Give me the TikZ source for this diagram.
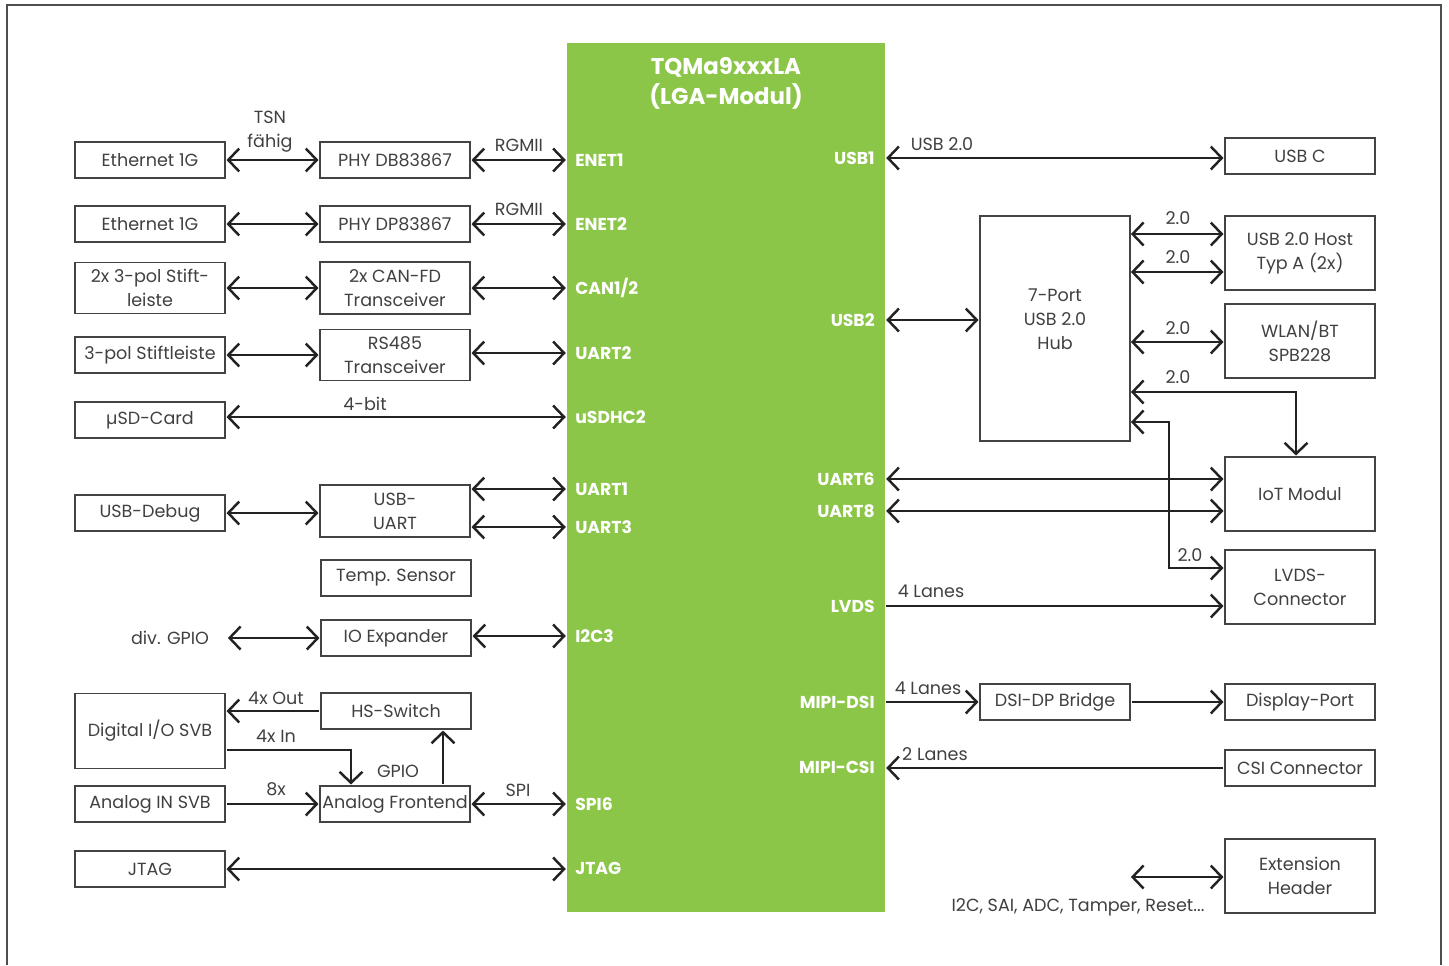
\documentclass[tikz,border=0pt]{standalone}
\usepackage{fontspec}
\setmainfont{Poppins}
\usetikzlibrary{arrows.meta}
\definecolor{socgreen}{RGB}{139,198,72}
\definecolor{txt}{RGB}{64,64,64}
\definecolor{ln}{RGB}{34,34,34}
\tikzset{
  box/.style={draw=ln!85, line width=0.75pt, minimum width=3cm, minimum height=0.72cm, inner sep=0pt, align=center, text=txt, font=\fontsize{10}{13.6}\selectfont},
  lbl/.style={text=txt, inner sep=0pt, font=\fontsize{10}{13.6}\selectfont, align=center},
  port/.style={text=white, inner sep=0pt, font=\bfseries\fontsize{9.8}{11}\selectfont},
  con/.style={draw=ln, line width=1.4pt, shorten >=0.5pt, shorten <=0.5pt},
  dbl/.style={con, {Straight Barb[length=2.2mm,width=4.6mm]}-{Straight Barb[length=2.2mm,width=4.6mm]}},
  sgl/.style={con, -{Straight Barb[length=2.2mm,width=4.6mm]}},
}
\begin{document}
\begin{tikzpicture}[x=0.02cm,y=-0.02cm]
\useasboundingbox (0,0) rectangle (1449,965);
\draw[draw=ln!80, line width=1pt] (7,965) -- (7,5) -- (1441,5) -- (1441,965);

% SoC
\node[fill=socgreen, minimum width=6.36cm, minimum height=17.38cm, inner sep=0pt] (soc) at (726,477.5) {};
\node[text=white, font=\bfseries\fontsize{13}{17}\selectfont, align=center, inner sep=0pt] (title) at (726,83) {TQMa9xxxLA\\(LGA-Modul)};

% left ports
\node[port, anchor=west] (enet1) at (575,160) {ENET1};
\node[port, anchor=west] (enet2) at (575,224) {ENET2};
\node[port, anchor=west] (can12) at (575,288) {CAN1/2};
\node[port, anchor=west] (uart2) at (575,353) {UART2};
\node[port, anchor=west] (usdhc) at (575,417) {uSDHC2};
\node[port, anchor=west] (uart1) at (575,489) {UART1};
\node[port, anchor=west] (uart3) at (575,527) {UART3};
\node[port, anchor=west] (i2c3) at (575,636) {I2C3};
\node[port, anchor=west] (spi6) at (575,804) {SPI6};
\node[port, anchor=west] (jtagp) at (575,868) {JTAG};

% right ports
\node[port, anchor=east] (usb1) at (875,158) {USB1};
\node[port, anchor=east] (usb2) at (875,320) {USB2};
\node[port, anchor=east] (uart6) at (875,479) {UART6};
\node[port, anchor=east] (uart8) at (875,511) {UART8};
\node[port, anchor=east] (lvdsp) at (875,606) {LVDS};
\node[port, anchor=east] (dsi) at (875,702) {MIPI-DSI};
\node[port, anchor=east] (csip) at (875,767) {MIPI-CSI};

% left column
\node[box] (eth1) at (150,160) {Ethernet 1G};
\node[box] (eth2) at (150,224) {Ethernet 1G};
\node[box, minimum height=1.02cm] (stift) at (150,288) {2x 3-pol Stift-\\leiste};
\node[box] (stift3) at (150,355) {3-pol Stiftleiste};
\node[box] (usd) at (150,420) {µSD-Card};
\node[box] (usbdbg) at (150,513) {USB-Debug};
\node[box, minimum height=1.5cm] (dio) at (150,731) {Digital I/O SVB};
\node[box] (ain) at (150,804) {Analog IN SVB};
\node[box] (jtag) at (150,869) {JTAG};

% middle column
\node[box] (phy1) at (395,160) {PHY DB83867};
\node[box] (phy2) at (395,224) {PHY DP83867};
\node[box, minimum height=1.04cm] (can) at (395,288) {2x CAN-FD\\Transceiver};
\node[box, minimum height=1.02cm] (rs485) at (395,355) {RS485\\Transceiver};
\node[box, minimum height=1.04cm] (usbuart) at (395,511) {USB-\\UART};
\node[box] (temp) at (396,578) {Temp. Sensor};
\node[box] (ioexp) at (396,638) {IO Expander};
\node[box] (hss) at (396,711) {HS-Switch};
\node[box] (afe) at (395,804) {Analog Frontend};
\node[lbl] (divgpio) at (170,638) {div. GPIO};

% right column
\node[box] (usbc) at (1300,156) {USB C};
\node[box, minimum height=1.48cm] (host) at (1300,253) {USB 2.0 Host\\Typ A (2x)};
\node[box, minimum height=1.48cm] (wlan) at (1300,341) {WLAN/BT\\SPB228};
\node[box, minimum height=1.48cm] (iot) at (1300,494) {IoT Modul};
\node[box, minimum height=1.48cm] (lvds) at (1300,587) {LVDS-\\Connector};
\node[box] (dp) at (1300,702) {Display-Port};
\node[box] (csi) at (1300,768) {CSI Connector};
\node[box, minimum height=1.48cm] (ext) at (1300,876) {Extension\\Header};
\node[box, minimum height=4.5cm] (hub) at (1055,328.5) {};
\node[lbl] (hubtxt) at (1055,319) {7-Port\\USB 2.0\\Hub};
\node[box] (dsidp) at (1055,702) {DSI-DP Bridge};

% left connectors
\draw[dbl] (eth1.east) -- (phy1.west);
\draw[dbl] (phy1.east) -- (phy1.east -| soc.west);
\draw[dbl] (eth2.east) -- (phy2.west);
\draw[dbl] (phy2.east) -- (phy2.east -| soc.west);
\draw[dbl] (stift.east) -- (can.west);
\draw[dbl] (can.east) -- (can.east -| soc.west);
\draw[dbl] (stift3.east) -- (rs485.west);
\draw[dbl] (rs485.east |- uart2.west) -- (soc.west |- uart2.west);
\draw[dbl] (usd.east |- usdhc.west) -- (soc.west |- usdhc.west);
\draw[dbl] (usbdbg.east) -- (usbdbg.east -| usbuart.west);
\draw[dbl] (usbuart.east |- uart1.west) -- (soc.west |- uart1.west);
\draw[dbl] (usbuart.east |- uart3.west) -- (soc.west |- uart3.west);
\coordinate (gpioend) at (227,638);
\draw[dbl] (gpioend) -- (ioexp.west);
\draw[dbl] (ioexp.east |- i2c3.west) -- (soc.west |- i2c3.west);
\draw[sgl] (hss.west) -- (hss.west -| dio.east);
\coordinate (dinb) at (351,750);
\draw[sgl] (dio.east |- dinb) -- (dinb) -- (dinb |- afe.north);
\coordinate (gpiob) at (443,750);
\draw[sgl] (afe.north -| gpiob) -- (hss.south -| gpiob);
\draw[sgl] (ain.east) -- (afe.west);
\draw[dbl] (afe.east) -- (afe.east -| soc.west);
\draw[dbl] (jtag.east) -- (jtag.east -| soc.west);

% left labels
\node[lbl] (tsn) at (270,132) {TSN\\fähig};
\node[lbl] (rg1) at (519,145) {RGMII};
\node[lbl] (rg2) at (519,209) {RGMII};
\node[lbl] (bit4) at (365,404) {4-bit};
\node[lbl] (out4) at (276,698) {4x Out};
\node[lbl] (in4) at (276,736) {4x In};
\node[lbl] (gpiol) at (398,771) {GPIO};
\node[lbl] (x8) at (276,789) {8x};
\node[lbl] (spil) at (518,790) {SPI};

% right connectors
\draw[dbl] (soc.east |- usb1.east) -- (usbc.west |- usb1.east);
\draw[dbl] (soc.east |- usb2.east) -- (hub.west |- usb2.east);
\coordinate (h1) at (1130,234);
\coordinate (h2) at (1130,272);
\coordinate (h3) at (1130,342);
\coordinate (h4) at (1130,392);
\coordinate (h4b) at (1296,392);
\coordinate (h5) at (1130,422);
\coordinate (h5b) at (1169,568);
\draw[dbl] (h1) -- (host.west |- h1);
\draw[dbl] (h2) -- (host.west |- h2);
\draw[dbl] (h3) -- (wlan.west |- h3);
\draw[dbl] (h4) -- (h4b) -- (h4b |- iot.north);
\draw[dbl] (h5) -- (h5 -| h5b) -- (h5b) -- (lvds.west |- h5b);
\draw[dbl] (soc.east |- uart6.east) -- (iot.west |- uart6.east);
\draw[dbl] (soc.east |- uart8.east) -- (iot.west |- uart8.east);
\draw[sgl] (soc.east |- lvdsp.east) -- (lvds.west |- lvdsp.east);
\draw[sgl] (soc.east |- dsi.east) -- (dsidp.west);
\draw[sgl] (dsidp.east) -- (dp.west);
\draw[sgl] (csi.west) -- (csi.west -| soc.east);
\coordinate (extend) at (1130,877);
\draw[dbl] (extend) -- (ext.west |- extend);

% right labels
\node[lbl] (usb20) at (942,144) {USB 2.0};
\node[lbl] (l1) at (1178,218) {2.0};
\node[lbl] (l2) at (1178,257) {2.0};
\node[lbl] (l3) at (1178,328) {2.0};
\node[lbl] (l4) at (1178,377) {2.0};
\node[lbl] (l5) at (1190,555) {2.0};
\node[lbl] (lanes1) at (931,591) {4 Lanes};
\node[lbl] (lanes2) at (928,688) {4 Lanes};
\node[lbl] (lanes3) at (935,754) {2 Lanes};
\node[lbl] (extl) at (1078,907) {I2C, SAI, ADC, Tamper, Reset...};
\end{tikzpicture}
\end{document}
